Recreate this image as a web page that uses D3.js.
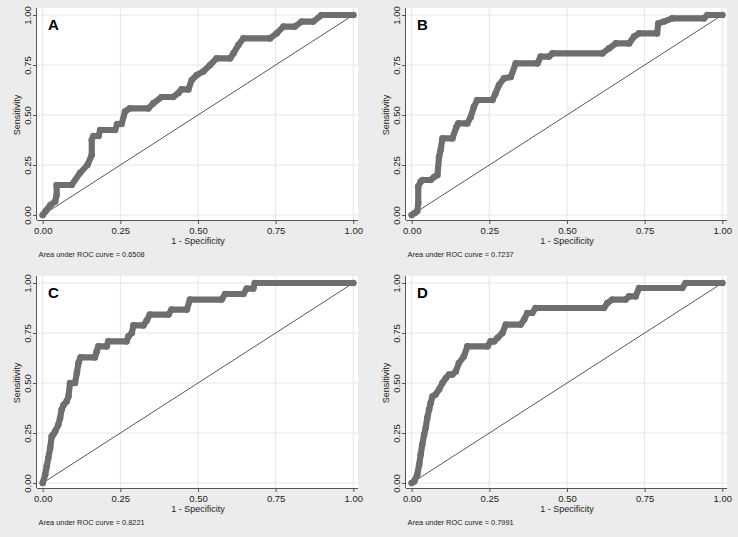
<!DOCTYPE html>
<html>
<head>
<meta charset="utf-8">
<script src="https://cdn.jsdelivr.net/npm/d3@7"></script>
<style>
  html, body { margin: 0; padding: 0; background: #ececec; }
  svg { display: block; }
  text { font-family: "Liberation Sans", Arial, Helvetica, sans-serif; }
</style>
</head>
<body>
<svg id="chart" width="738" height="537"></svg>
<script>
// ---- Data ----
const panelLabels = ["A", "B", "C", "D"];
const aucValues = ["0.6508", "0.7237", "0.8221", "0.7991"];
const tickValues = [0, 0.25, 0.5, 0.75, 1];
const xTitle = "1 - Specificity";
const yTitle = "Sensitivity";

const rocA = [[0,0],[0.01,0.02],[0.025,0.05],[0.04,0.067],[0.045,0.1],[0.045,0.15],[0.093,0.15],[0.12,0.21],[0.144,0.25],[0.158,0.3],
  [0.158,0.375],[0.163,0.395],[0.18,0.395],[0.185,0.425],[0.233,0.425],[0.24,0.455],[0.254,0.455],[0.265,0.517],[0.28,0.533],[0.34,0.533],
  [0.356,0.558],[0.383,0.59],[0.42,0.59],[0.437,0.61],[0.447,0.628],[0.469,0.628],[0.48,0.675],[0.496,0.7],[0.517,0.717],[0.539,0.75],
  [0.56,0.783],[0.603,0.783],[0.614,0.808],[0.63,0.85],[0.646,0.883],[0.732,0.883],[0.753,0.908],[0.775,0.942],[0.812,0.942],[0.834,0.967],
  [0.871,0.967],[0.898,1],[1,1]];

const rocB = [[0,0],[0.01,0.01],[0.018,0.02],[0.021,0.06],[0.021,0.142],[0.029,0.167],[0.035,0.175],[0.061,0.175],[0.072,0.19],[0.083,0.2],
  [0.088,0.29],[0.093,0.325],[0.099,0.383],[0.131,0.383],[0.144,0.44],[0.15,0.458],[0.179,0.458],[0.19,0.49],[0.2,0.54],[0.211,0.575],
  [0.26,0.575],[0.27,0.608],[0.281,0.65],[0.297,0.683],[0.319,0.69],[0.335,0.758],[0.405,0.758],[0.415,0.792],[0.442,0.792],[0.453,0.808],
  [0.614,0.808],[0.635,0.833],[0.657,0.858],[0.7,0.858],[0.716,0.892],[0.732,0.908],[0.79,0.908],[0.794,0.958],[0.812,0.967],[0.839,0.983],
  [0.941,0.983],[0.952,1],[1,1]];

const rocC = [[0,0],[0.008,0.042],[0.013,0.083],[0.018,0.125],[0.024,0.175],[0.029,0.233],[0.034,0.242],[0.04,0.258],[0.05,0.29],[0.056,0.325],
  [0.061,0.367],[0.067,0.39],[0.077,0.408],[0.083,0.433],[0.088,0.5],[0.104,0.5],[0.11,0.55],[0.115,0.6],[0.122,0.628],[0.168,0.628],
  [0.174,0.658],[0.179,0.683],[0.206,0.683],[0.211,0.708],[0.27,0.708],[0.276,0.733],[0.287,0.75],[0.292,0.788],[0.324,0.788],[0.335,0.812],
  [0.345,0.842],[0.405,0.842],[0.415,0.867],[0.464,0.867],[0.474,0.917],[0.576,0.917],[0.587,0.945],[0.646,0.945],[0.657,0.972],[0.678,0.972],
  [0.683,1],[1,1]];

const rocD = [[0,0],[0.008,0.008],[0.018,0.042],[0.024,0.092],[0.029,0.142],[0.034,0.192],[0.04,0.242],[0.045,0.275],[0.05,0.325],[0.056,0.367],
  [0.061,0.4],[0.067,0.433],[0.077,0.442],[0.088,0.467],[0.099,0.5],[0.11,0.525],[0.12,0.542],[0.131,0.542],[0.142,0.558],[0.152,0.6],
  [0.168,0.633],[0.179,0.683],[0.244,0.683],[0.254,0.708],[0.265,0.708],[0.276,0.725],[0.292,0.75],[0.303,0.792],[0.351,0.792],[0.362,0.817],
  [0.372,0.85],[0.388,0.85],[0.399,0.875],[0.619,0.875],[0.63,0.9],[0.646,0.917],[0.689,0.917],[0.7,0.933],[0.721,0.933],[0.732,0.975],
  [0.871,0.975],[0.882,1],[1,1]];

const curves = [rocA, rocB, rocC, rocD];
const diagonal = [[0,0],[1,1]];

// ---- Layout ----
const svg = d3.select("#chart");
const panelW = 369, panelH = 268;
const plot = { left: 37, right: 358, top: 8, bottom: 220 };
const x = d3.scaleLinear().domain([0, 1]).range([42.7, 353.3]);
const y = d3.scaleLinear().domain([0, 1]).range([215, 15]);
const curveColor = "#6e6e6e";
const fmt = d3.format(".2f");

curves.forEach((data, i) => {
  const ox = (i % 2) * panelW, oy = Math.floor(i / 2) * panelH;
  const g = svg.append("g").attr("transform", `translate(${ox},${oy})`);

  g.append("rect")
    .attr("x", plot.left).attr("y", plot.top)
    .attr("width", plot.right - plot.left).attr("height", plot.bottom - plot.top)
    .attr("fill", "#ffffff");

  // grid
  g.selectAll(".gx").data(tickValues).join("line")
    .attr("x1", d => x(d)).attr("x2", d => x(d))
    .attr("y1", plot.top).attr("y2", plot.bottom)
    .attr("stroke", "#e6e6e6").attr("stroke-width", 1);
  g.selectAll(".gy").data(tickValues).join("line")
    .attr("x1", plot.left).attr("x2", plot.right)
    .attr("y1", d => y(d)).attr("y2", d => y(d))
    .attr("stroke", "#e6e6e6").attr("stroke-width", 1);

  // axes
  const xAxis = g.append("g").attr("transform", `translate(0,${plot.bottom})`)
    .call(d3.axisBottom(x).tickValues(tickValues).tickFormat(fmt).tickSize(4).tickPadding(3));
  xAxis.select(".domain").attr("d", `M${plot.left},0.5H${plot.right}`).attr("stroke", "#555");
  xAxis.selectAll(".tick line").attr("stroke", "#555");
  xAxis.selectAll("text").attr("font-size", 9.5).attr("fill", "#222");

  const yAxis = g.append("g").attr("transform", `translate(${plot.left},0)`)
    .call(d3.axisLeft(y).tickValues(tickValues).tickFormat(fmt).tickSize(4).tickPadding(3));
  yAxis.select(".domain").attr("d", `M-0.5,${plot.top}V${plot.bottom}`).attr("stroke", "#555");
  yAxis.selectAll(".tick line").attr("stroke", "#555");
  yAxis.selectAll("text")
    .attr("font-size", 9.5).attr("fill", "#222")
    .attr("x", null).attr("dy", null)
    .attr("text-anchor", "middle")
    .attr("transform", "translate(-6,0) rotate(-90)");

  // titles
  g.append("text").attr("x", (x(0) + x(1)) / 2).attr("y", 244)
    .attr("text-anchor", "middle").attr("font-size", 9).attr("fill", "#222").text(xTitle);
  g.append("text").attr("transform", `translate(19.5,${(y(0) + y(1)) / 2}) rotate(-90)`)
    .attr("text-anchor", "middle").attr("font-size", 9).attr("fill", "#222").text(yTitle);
  g.append("text").attr("x", 38.5).attr("y", 257)
    .attr("font-size", 7.4).attr("fill", "#222").text("Area under ROC curve = " + aucValues[i]);

  // reference diagonal
  const line = d3.line().x(d => x(d[0])).y(d => y(d[1]));
  g.append("path").datum(diagonal).attr("d", line)
    .attr("fill", "none").attr("stroke", "#444").attr("stroke-width", 0.9);

  // ROC curve
  g.append("path").datum(data).attr("d", line)
    .attr("fill", "none").attr("stroke", curveColor)
    .attr("stroke-width", 6.2).attr("stroke-linejoin", "round").attr("stroke-linecap", "round");
  g.selectAll(".pt").data(data).join("circle")
    .attr("cx", d => x(d[0])).attr("cy", d => y(d[1])).attr("r", 3.3)
    .attr("fill", curveColor);

  // panel label
  g.append("text").attr("x", 48).attr("y", 30)
    .attr("font-size", 15).attr("font-weight", "bold").attr("fill", "#000").text(panelLabels[i]);
});
</script>
</body>
</html>
